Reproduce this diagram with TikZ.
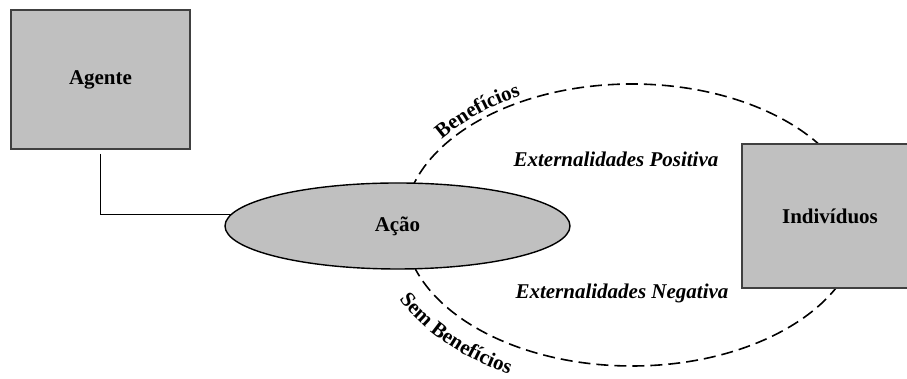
\documentclass[tikz,border=0pt]{standalone}
\usepackage{fontspec}
\setmainfont{Liberation Serif}
\usetikzlibrary{shapes,decorations.text,backgrounds}
\definecolor{cinza}{HTML}{C0C0C0}
\definecolor{borda}{HTML}{404040}

\begin{document}
\begin{tikzpicture}[x=0.5pt,y=0.5pt]
\def\fonterotulo{\fontsize{10.5}{12}\selectfont\bfseries}
\tikzstyle{every node}=[font=\fonterotulo]
\tikzstyle{caixa}=[draw=borda,line width=1pt,fill=cinza,rectangle]
\tikzstyle{elipse}=[draw=black,line width=0.7pt,fill=cinza,ellipse,inner sep=0pt]
\tikzstyle{externa}=[line width=0.8pt,dash pattern=on 6pt off 3pt]
\tikzstyle{rotulo}=[font=\fonterotulo\itshape]
\useasboundingbox (0,0) rectangle (907,379);
\node [caixa,minimum width=89.5pt,minimum height=69.5pt] (agente) at (100.5,299.5) {Agente};
\node [elipse,minimum width=172.5pt,minimum height=43pt] (acao) at (397.5,153) {Ação};
\node [caixa,minimum width=88pt,minimum height=72pt] (individuos) at (830,163) {Indivíduos};
\coordinate (orbita) at (632,154);
\begin{pgfonlayer}{background}
\draw [externa] (orbita) ellipse [x radius=228,y radius=141];
\end{pgfonlayer}
\draw [line width=0.7pt,shorten <=2pt] (agente.south) |- (acao.176.6);
\node [rotulo] (positiva) at (616,220) {Externalidades Positiva};
\node [rotulo] (negativa) at (622,86) {Externalidades Negativa};
\path [decorate,decoration={text along path,text align=center,text={|\fonterotulo|Benefícios}}]
 ([shift={(165:234 and 147)}]orbita) arc [start angle=165,end angle=103,x radius=234,y radius=147];
\path [decorate,decoration={text along path,text align=center,text={|\fonterotulo|Sem Benefícios}}]
 ([shift={(192:259 and 170)}]orbita) arc [start angle=192,end angle=252,x radius=259,y radius=170];
\end{tikzpicture}
\end{document}
